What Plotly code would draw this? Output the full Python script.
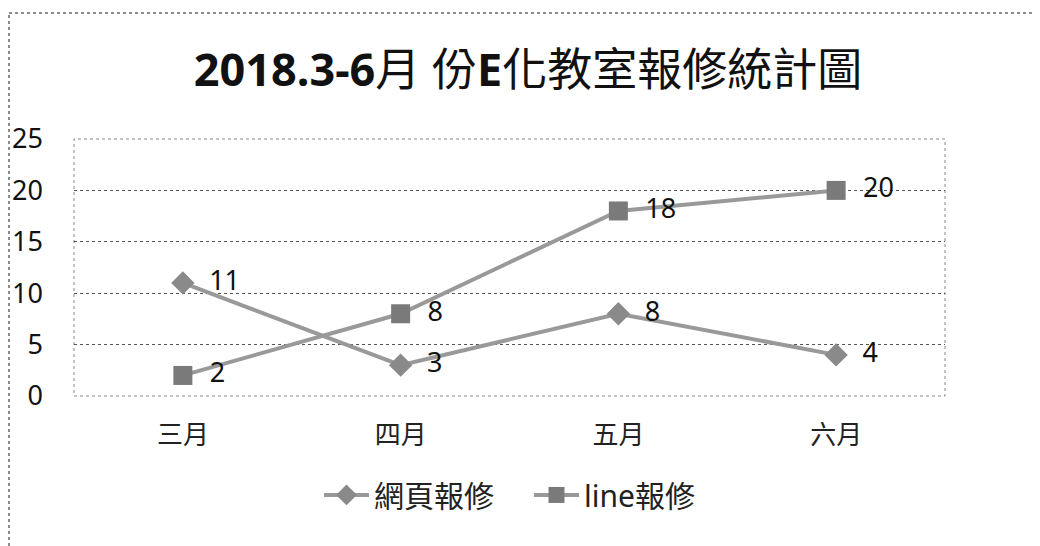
import plotly.graph_objects as go

months = ["三月", "四月", "五月", "六月"]
web_repair = [11, 3, 8, 4]
line_repair = [2, 8, 18, 20]
y_ticks = [0, 5, 10, 15, 20, 25]

title_text = "<b>2018.3-6</b>月 份<b>E</b>化教室報修統計圖"

latin = "Noto Sans, Open Sans, sans-serif"
cjk = "Noto Sans, Noto Sans CJK TC, sans-serif"

fig = go.Figure()
fig.add_trace(go.Scatter(
    x=months, y=web_repair, name="網頁報修\u3000", mode="lines+markers+text",
    text=["  " + str(v) for v in web_repair], textposition="middle right",
    textfont=dict(size=27, color="#111", family=latin),
    line=dict(color="#999999", width=4),
    marker=dict(symbol="diamond", size=18, color="#8a8a8a"),
    cliponaxis=False,
))
fig.add_trace(go.Scatter(
    x=months, y=line_repair, name="line報修", mode="lines+markers+text",
    text=["  " + str(v) for v in line_repair], textposition="middle right",
    textfont=dict(size=27, color="#111", family=latin),
    line=dict(color="#999999", width=4),
    marker=dict(symbol="square", size=19, color="#7a7a7a"),
    cliponaxis=False,
))

fig.update_layout(
    width=1040, height=546,
    margin=dict(l=66, r=103, t=131, b=158, autoexpand=False),
    paper_bgcolor="white", plot_bgcolor="white",
    title=dict(text=title_text, x=0.5, xref="container", y=0.886, yref="container",
               xanchor="center", yanchor="middle",
               font=dict(size=45, color="#111", family=cjk)),
    xaxis=dict(type="category", range=[-0.5, 3.5], showgrid=False, showline=False,
               zeroline=False, ticks="", ticklabelstandoff=21, automargin=False,
               tickfont=dict(size=26, color="#222", family="Noto Sans CJK TC")),
    yaxis=dict(range=[0, 25], tickvals=y_ticks, showgrid=True, gridcolor="#555",
               griddash="dot", gridwidth=1, zeroline=False, showline=False,
               ticks="", ticklabelstandoff=30, automargin=False,
               tickfont=dict(size=27, color="#111", family=latin)),
    legend=dict(orientation="h", x=0.5, xanchor="center", y=-0.385, yanchor="middle",
                font=dict(size=30, color="#222", family=cjk), itemwidth=45,
                traceorder="normal"),
    showlegend=True,
)

# plot area border (dotted)
fig.add_shape(type="rect", xref="paper", yref="paper", x0=0, x1=1, y0=0, y1=1,
              line=dict(color="#888", width=1, dash="dot"), layer="below")
# outer chart border (top and left, dotted)
fig.add_shape(type="line", xref="paper", yref="paper", x0=-0.0746, x1=1.2, y0=1.49, y1=1.49,
              line=dict(color="#666", width=1.5, dash="dot"))
fig.add_shape(type="line", xref="paper", yref="paper", x0=-0.0746, x1=-0.0746, y0=-0.7, y1=1.49,
              line=dict(color="#666", width=1.5, dash="dot"))

fig.write_html("out.html")
